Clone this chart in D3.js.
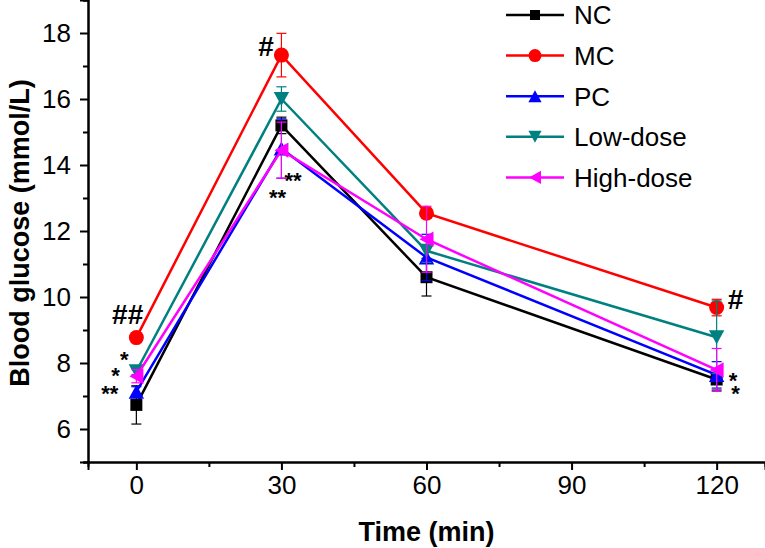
<!DOCTYPE html>
<html>
<head>
<meta charset="utf-8">
<script src="https://cdn.jsdelivr.net/npm/d3@7"></script>
<style>
  html, body { margin: 0; padding: 0; background: #fff; }
  svg { display: block; }
  text { font-family: "Liberation Sans", Arial, Helvetica, sans-serif; }
</style>
</head>
<body>
<svg id="chart" width="765" height="548"></svg>
<script>
// ---- data ----
const times = [0, 30, 60, 120];
const seriesNames = ["NC", "MC", "PC", "Low-dose", "High-dose"];
const seriesColors = ["#000000", "#ff0000", "#0000ff", "#008080", "#ff00ff"];
const seriesShapes = ["square", "circle", "triUp", "triDown", "triLeft"];
const ncValues = [6.73, 15.2, 10.6, 7.5];
const ncErrors = [0.58, 0.25, 0.57, 0.32];
const mcValues = [8.77, 17.33, 12.54, 9.68];
const mcErrors = [0.1, 0.66, 0.15, 0.25];
const pcValues = [7.13, 14.5, 11.2, 7.64];
const pcErrors = [0.15, 0.9, 0.7, 0.4];
const lowValues = [7.75, 16.0, 11.4, 8.78];
const lowErrors = [0.1, 0.37, 0.35, 1.1];
const highValues = [7.6, 14.45, 11.75, 7.79];
const highErrors = [0.2, 0.85, 1.0, 0.65];
const xTicks = [0, 30, 60, 90, 120];
const xMinorTicks = [15, 45, 75, 105];
const yTicks = [6, 8, 10, 12, 14, 16, 18];
const yMinorTicks = [5, 7, 9, 11, 13, 15, 17, 19];
const xTitle = "Time (min)";
const yTitle = "Blood glucose (mmol/L)";
// "#" marks: [time, value, label, dx(time units)]
const hashMarks = [[0, 9.5, "##", -1.8], [30, 17.6, "#", -3.2], [120, 9.95, "#", 3.9]];
// "*" marks, grouped per time point: [time, value, label, dx(time units)]
const starGroups = [
  [[0, 8.3, "*", -2.5], [0, 7.8, "*", -4.3], [0, 7.27, "**", -5.5]],
  [[30, 13.72, "**", 2.4], [30, 13.2, "**", -0.8]],
  [[120, 7.65, "*", 3.4], [120, 7.25, "*", 3.9]]
];

const values = [ncValues, mcValues, pcValues, lowValues, highValues];
const errors = [ncErrors, mcErrors, pcErrors, lowErrors, highErrors];

// ---- layout ----
const svg = d3.select("#chart");
const x = d3.scaleLinear().domain([-10, 130]).range([88, 765]);
const y = d3.scaleLinear().domain([5, 19]).range([462, 0]);
const font = "'Liberation Sans', Arial, Helvetica, sans-serif";

function symbolPath(shape, s) {
  const h = s / 2;
  switch (shape) {
    case "square": return `M${-h},${-h}H${h}V${h}H${-h}Z`;
    case "circle": return d3.arc()({innerRadius: 0, outerRadius: h, startAngle: 0, endAngle: 2 * Math.PI});
    case "triUp": return `M0,${-h}L${h * 1.1},${h}L${-h * 1.1},${h}Z`;
    case "triDown": return `M0,${h}L${h * 1.1},${-h}L${-h * 1.1},${-h}Z`;
    case "triLeft": return `M${-h},0L${h},${-h * 1.1}L${h},${h * 1.1}Z`;
  }
}
const markerSize = {square: 12, circle: 15, triUp: 14, triDown: 14, triLeft: 14};

// axes
const xAxis = d3.axisBottom(x).tickValues(xTicks).tickSize(8).tickPadding(6).tickFormat(d3.format("d"));
const xAxisMinor = d3.axisBottom(x).tickValues(xMinorTicks).tickSize(5).tickFormat("");
const yAxis = d3.axisLeft(y).tickValues(yTicks).tickSize(8).tickPadding(9).tickFormat(d3.format("d"));
const yAxisMinor = d3.axisLeft(y).tickValues(yMinorTicks).tickSize(5).tickFormat("");

function styleAxis(g) {
  g.select(".domain").attr("stroke", "#000").attr("stroke-width", 2);
  g.selectAll(".tick line").attr("stroke", "#000").attr("stroke-width", 2);
  g.selectAll(".tick text").attr("font-family", font).attr("font-size", 26).attr("fill", "#000");
}
svg.append("g").attr("transform", "translate(0,462)").call(xAxisMinor).call(styleAxis);
svg.append("g").attr("transform", "translate(0,462)").call(xAxis).call(styleAxis);
svg.append("g").attr("transform", "translate(88,0)").call(yAxisMinor).call(styleAxis);
svg.append("g").attr("transform", "translate(88,0)").call(yAxis).call(styleAxis);

// titles
svg.append("text").attr("x", (88 + 765) / 2).attr("y", 541)
  .attr("text-anchor", "middle").attr("font-weight", "bold").attr("font-size", 27)
  .attr("font-family", font).text(xTitle);
svg.append("text").attr("transform", "translate(29,233) rotate(-90)")
  .attr("text-anchor", "middle").attr("font-weight", "bold").attr("font-size", 27)
  .attr("font-family", font).text(yTitle);

// series
const line = d3.line().x((d, i) => x(times[i])).y(d => y(d));
values.forEach((vals, si) => {
  const g = svg.append("g");
  const col = seriesColors[si];
  g.append("path").datum(vals).attr("d", line).attr("fill", "none")
    .attr("stroke", col).attr("stroke-width", 2.5).attr("stroke-linejoin", "miter");
  vals.forEach((v, i) => {
    const e = errors[si][i];
    const cx = x(times[i]);
    g.append("line").attr("x1", cx).attr("x2", cx).attr("y1", y(v - e)).attr("y2", y(v + e))
      .attr("stroke", col).attr("stroke-width", 1.2);
    [v - e, v + e].forEach(yy => {
      g.append("line").attr("x1", cx - 5).attr("x2", cx + 5).attr("y1", y(yy)).attr("y2", y(yy))
        .attr("stroke", col).attr("stroke-width", 1.2);
    });
  });
  const shape = seriesShapes[si];
  g.selectAll("path.m").data(vals).join("path").attr("class", "m")
    .attr("transform", (d, i) => `translate(${x(times[i])},${y(d)})`)
    .attr("d", symbolPath(shape, markerSize[shape])).attr("fill", col);
});

// significance marks
hashMarks.forEach(m => {
  const fs = 28;
  svg.append("text").attr("x", x(m[0] + m[3])).attr("y", y(m[1]) + 0.36 * fs)
    .attr("text-anchor", "middle").attr("font-weight", "bold").attr("font-size", fs)
    .attr("font-family", font).text(m[2]);
});
starGroups.forEach(group => {
  const fs = 22;
  const t = svg.append("text").attr("text-anchor", "middle").attr("font-weight", "bold")
    .attr("font-size", fs).attr("font-family", font);
  group.forEach(m => {
    t.append("tspan").attr("x", x(m[0] + m[3])).attr("y", y(m[1]) + 0.62 * fs).text(m[2]);
  });
});

// legend
const lg = svg.append("g");
seriesNames.forEach((name, i) => {
  const cy = 15 + i * 40.6;
  lg.append("line").attr("x1", 506).attr("x2", 564).attr("y1", cy).attr("y2", cy)
    .attr("stroke", seriesColors[i]).attr("stroke-width", 2.5);
  const shape = seriesShapes[i];
  lg.append("path").attr("transform", `translate(535,${cy})`)
    .attr("d", symbolPath(shape, markerSize[shape] - 2)).attr("fill", seriesColors[i]);
  lg.append("text").attr("x", 574).attr("y", cy + 9.3).attr("font-size", 26)
    .attr("font-family", font).text(name);
});
</script>
</body>
</html>
